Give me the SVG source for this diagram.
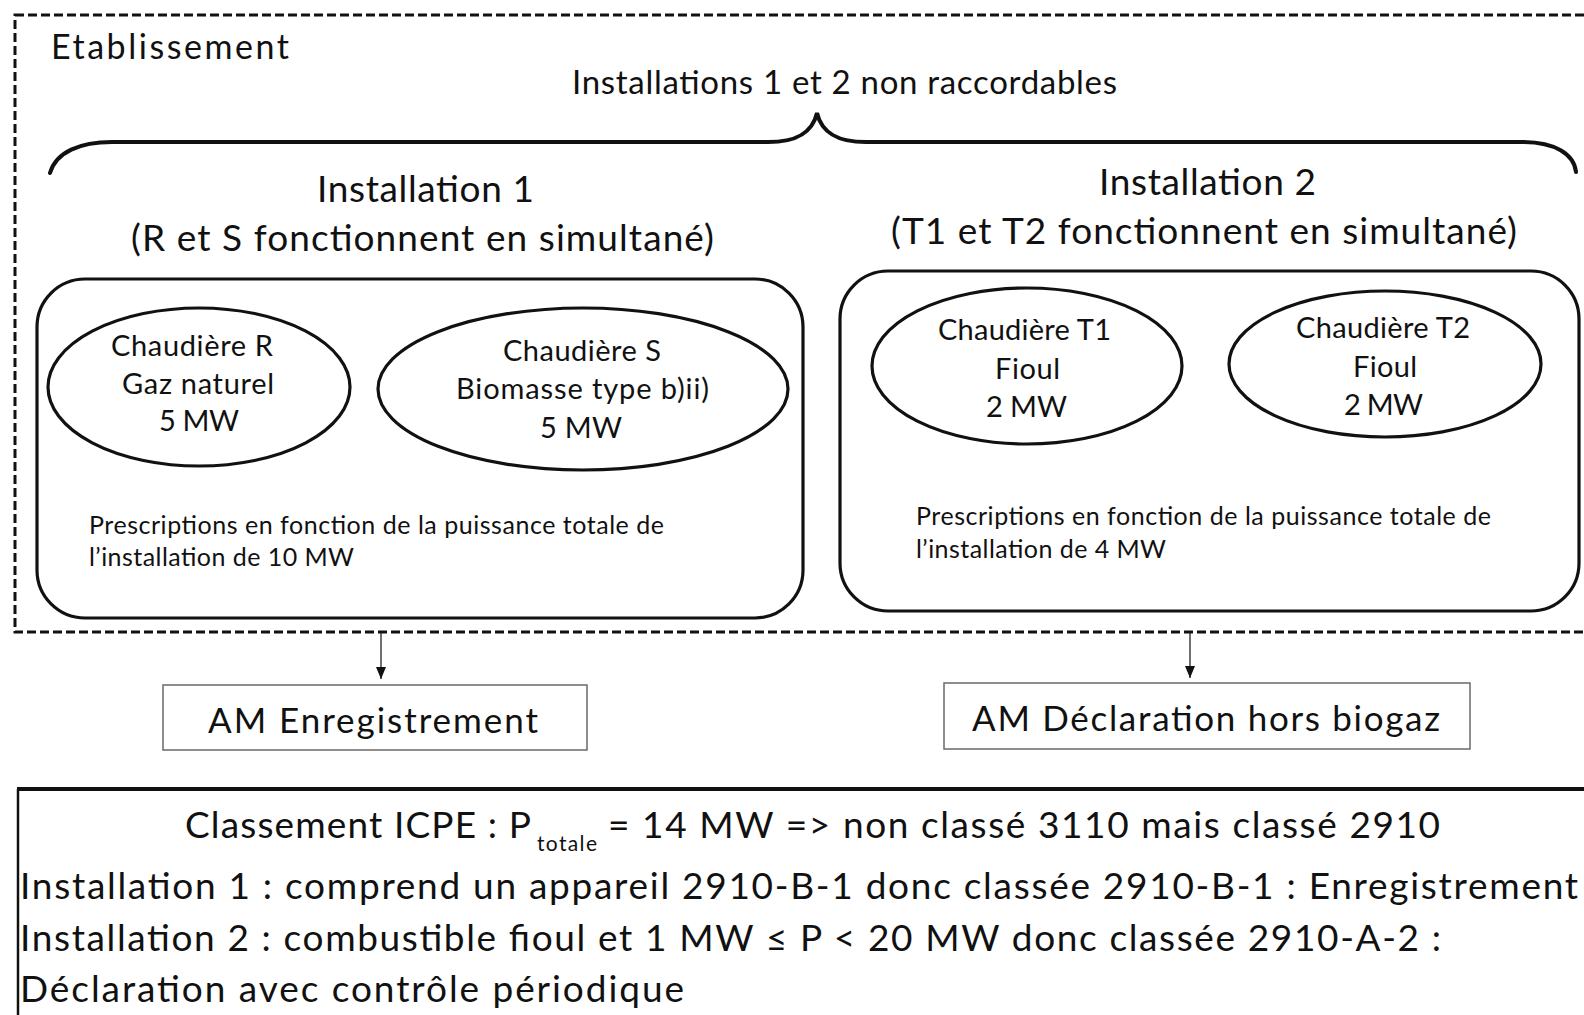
<svg xmlns="http://www.w3.org/2000/svg" width="1584" height="1015" viewBox="0 0 1584 1015">
<defs>
<style>
text{font-family:Lato,"Open Sans","Liberation Sans",sans-serif;fill:#111;}
.t33{font-size:34px}
.t36{font-size:37px}
.t29{font-size:29px}
.t25{font-size:25px}
.t34{font-size:35px}
.t37{font-size:37px}
.shape{fill:#fff;stroke:#111;stroke-width:3.2}
.am{fill:#fff;stroke:#6a6a6a;stroke-width:1.5}
.conn{stroke:#222;stroke-width:1.3;fill:none}
</style>
<marker id="arr" viewBox="0 0 12 10" refX="12" refY="5" markerWidth="12" markerHeight="10" markerUnits="userSpaceOnUse" orient="auto">
<path d="M0,0 L12,5 L0,10 Z" fill="#111"/>
</marker>
</defs>
<rect x="0" y="0" width="1584" height="1015" fill="#fff"/>

<g id="etablissement">
<rect x="15" y="15" width="1600" height="617" fill="none" stroke="#111" stroke-width="3" stroke-dasharray="9,4"/>
<text class="t33" x="51" y="59" textLength="238">Etablissement</text>
<text x="572" y="94" textLength="545" style="font-size:33px">Installations 1 et 2 non raccordables</text>
<path d="M50,173 C56,152 80,142 112,142 L768,142 C795,142 812,134 817,113 C822,134 839,142 866,142 L1522,142 C1555,142 1574,154 1576,172" fill="none" stroke="#111" stroke-width="4" stroke-linecap="round"/>
</g>

<g id="installation1">
<text class="t36" x="317" y="202" textLength="217">Installation 1</text>
<text class="t36" x="131" y="251" textLength="583">(R et S fonctionnent en simultané)</text>
<rect class="shape" x="37" y="279" width="766" height="339" rx="48" ry="48"/>
<text class="t25" x="89" y="534" textLength="575">Prescriptions en fonction de la puissance totale de</text>
<text class="t25" x="89" y="566" textLength="265">l’installation de 10 MW</text>
</g>

<g id="chaudiereR">
<ellipse class="shape" cx="199" cy="387" rx="151" ry="79"/>
<text class="t29" x="111" y="356" textLength="162">Chaudière R</text>
<text class="t29" x="122" y="394" textLength="152">Gaz naturel</text>
<text class="t29" x="159" y="431" textLength="80">5 MW</text>
</g>

<g id="chaudiereS">
<ellipse class="shape" cx="583" cy="389" rx="205" ry="81"/>
<text class="t29" x="503" y="361" textLength="158">Chaudière S</text>
<text class="t29" x="456" y="399" textLength="253">Biomasse type b)ii)</text>
<text class="t29" x="540" y="438" textLength="82">5 MW</text>
</g>

<g id="installation2">
<text class="t36" x="1099" y="195" textLength="217">Installation 2</text>
<text class="t36" x="891" y="244" textLength="626">(T1 et T2 fonctionnent en simultané)</text>
<rect class="shape" x="840" y="271" width="739" height="340" rx="48" ry="48"/>
<text class="t25" x="916" y="525" textLength="575">Prescriptions en fonction de la puissance totale de</text>
<text class="t25" x="916" y="558" textLength="250">l’installation de 4 MW</text>
</g>

<g id="chaudiereT1">
<ellipse class="shape" cx="1027" cy="366" rx="155" ry="78"/>
<text class="t29" x="938" y="340" textLength="173">Chaudière T1</text>
<text class="t29" x="995" y="379" textLength="65">Fioul</text>
<text class="t29" x="986" y="417" textLength="81">2 MW</text>
</g>

<g id="chaudiereT2">
<ellipse class="shape" cx="1385" cy="364" rx="156" ry="73"/>
<text class="t29" x="1296" y="338" textLength="174">Chaudière T2</text>
<text class="t29" x="1353" y="377" textLength="64">Fioul</text>
<text class="t29" x="1344" y="415" textLength="79">2 MW</text>
</g>

<g id="connectors">
<line class="conn" x1="381" y1="633" x2="381" y2="679" marker-end="url(#arr)"/>
<line class="conn" x1="1190" y1="633" x2="1190" y2="678" marker-end="url(#arr)"/>
</g>

<g id="amEnregistrement">
<rect class="am" x="163" y="685" width="424" height="65"/>
<text class="t34" x="208" y="733" textLength="330">AM Enregistrement</text>
</g>

<g id="amDeclaration">
<rect class="am" x="944" y="683" width="526" height="66"/>
<text class="t34" x="972" y="731" textLength="468">AM Déclaration hors biogaz</text>
</g>

<g id="classement">
<line x1="17" y1="789" x2="1600" y2="789" stroke="#111" stroke-width="4"/>
<line x1="18" y1="789" x2="18" y2="1020" stroke="#111" stroke-width="2.5"/>
<text class="t37" x="185" y="838" textLength="346">Classement ICPE : P</text>
<text x="537" y="851" textLength="60" style="font-size:21px">totale</text>
<text class="t37" x="608" y="838" textLength="832">= 14 MW =&gt; non classé 3110 mais classé 2910</text>
<text class="t37" x="20" y="899" textLength="1558">Installation 1 : comprend un appareil 2910-B-1 donc classée 2910-B-1 : Enregistrement</text>
<text class="t37" x="20" y="951" textLength="1421">Installation 2 : combustible fioul et 1 MW ≤ P &lt; 20 MW donc classée 2910-A-2 :</text>
<text class="t37" x="20" y="1002" textLength="664">Déclaration avec contrôle périodique</text>
</g>
</svg>
